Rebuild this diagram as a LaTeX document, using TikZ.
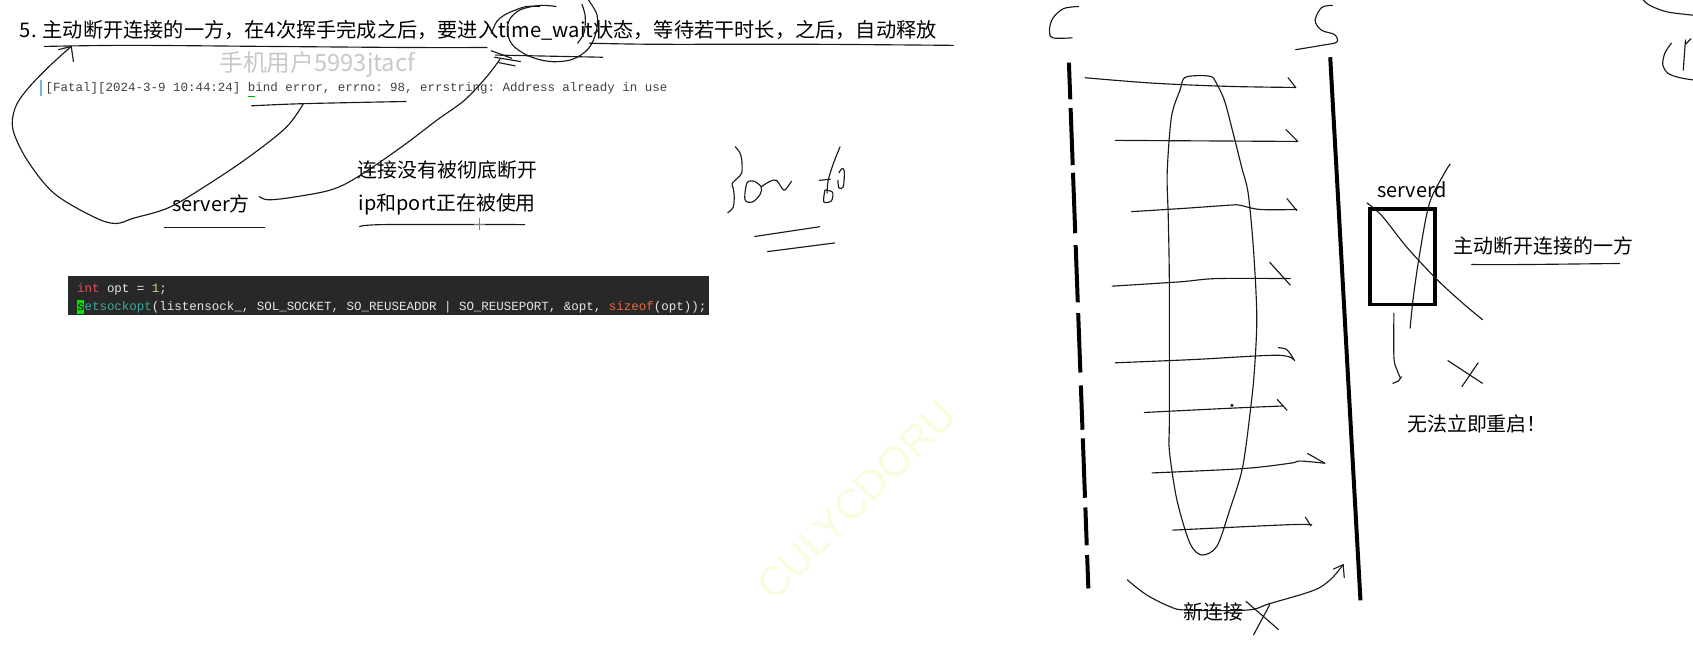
\documentclass[tikz,border=0pt]{standalone}
\usepackage{fontspec}
\newfontfamily\cjk{Noto Sans CJK SC}
\newfontfamily\monof{Liberation Mono}
\newfontfamily\wmfont{Liberation Sans}
\definecolor{codebg}{RGB}{40,40,40}
\definecolor{kwred}{RGB}{230,80,90}
\definecolor{numyel}{RGB}{230,210,120}
\definecolor{fnteal}{RGB}{60,170,160}
\definecolor{szorange}{RGB}{235,105,60}
\definecolor{codefg}{RGB}{230,230,230}
\definecolor{hlgreen}{RGB}{0,230,0}
\definecolor{logfg}{RGB}{65,65,65}
\definecolor{wmgray}{RGB}{200,200,200}
\definecolor{wmyellow}{RGB}{251,251,222}
\definecolor{ink}{RGB}{25,25,25}
\definecolor{barblue}{RGB}{120,180,230}
\begin{document}
\begin{tikzpicture}[x=0.02cm,y=-0.02cm,
  hand/.style={draw=ink,line width=0.6pt,line cap=round,line join=round},
  thickln/.style={draw=black,line width=2.1pt},
  ui/.style={inner sep=0pt,anchor=west,font=\cjk\fontsize{10.5}{12}\selectfont},
  code/.style={inner sep=0pt,anchor=base west,text=codefg,font=\monof\fontsize{6.58}{8}\selectfont\frenchspacing},
  sm/.style={smooth,tension=0.55}]
\useasboundingbox (0,0) rectangle (1568,603);
\fill[white] (0,0) rectangle (1568,603);

% faint watermark
\node[rotate=45,text=wmyellow,font=\wmfont\fontsize{22}{22}\selectfont,inner sep=0pt] (wm) at (793,463) {CULYCDORU};

% ---------- left part ----------
\node[ui,font=\cjk\fontsize{10.65}{12}\selectfont] (title) at (18,28) {5. 主动断开连接的一方，在4次挥手完成之后，要进入time\_wait状态，等待若干时长，之后，自动释放};
\node[ui,text=wmgray,font=\cjk\fontsize{12.5}{14}\selectfont] (user) at (203,60) {手机用户5993jtacf};
\draw[barblue,line width=0.6pt] (38,74) -- (38,89);
\node[code,text=logfg] (log) at (42,85) {[Fatal][2024-3-9 10:44:24] bind error, errno: 98, errstring: Address already in use};
\draw[green!70!black,line width=0.8pt] (230,89.5) -- (236,89.5);

\node[ui] (srv) at (159,189) {server方};
\node[ui] (conn1) at (331,157) {连接没有被彻底断开};
\node[ui] (conn2) at (332,189) {ip和port正在被使用};

% code block
\fill[codebg] (63,256) rectangle (657,292);
\fill[hlgreen] (71,278) rectangle (78,291);
\node[code] (c1) at (71,271) {\textcolor{kwred}{int} opt = \textcolor{numyel}{1};};
\node[code] (c2) at (71,288) {\textcolor{black}{s}\textcolor{fnteal}{etsockopt}(listensock\_, SOL\_SOCKET, SO\_REUSEADDR | SO\_REUSEPORT, \&opt, \textcolor{szorange}{sizeof}(opt));};

% title underline
\draw[hand] plot[sm] coordinates {(41,43) (120,42) (250,43) (380,44) (451,44)};
\draw[hand] plot[sm] coordinates {(546,40) (608,41) (750,41) (883,42)};
\draw[hand] (459,51) -- (558,53);
% bind underline
\draw[hand] plot[sm] coordinates {(233,98) (281,96) (376,94)};
% big loop to title
\draw[hand] plot[sm] coordinates {(281,96) (265,118) (231,145) (194,170) (157,192) (124,202) (107,207) (87,201) (50,179) (25,148) (12,120) (14,100) (25,83) (45,62) (66,43)};
\draw[hand] (54,46) -- (66,43) -- (68,57);
% server underline
\draw[hand] (152,211) -- (245,211);
% ip/port underline
\draw[hand] plot[sm] coordinates {(333,210) (356,208) (486,208)};
\draw[gray,line width=0.5pt] (444,202) -- (444,213) (439,207.5) -- (449,207.5);
% curve to time_wait
\draw[hand] plot[sm] coordinates {(240,182) (248,185) (269,183) (306,176) (331,164) (372,136) (405,111) (430,93) (450,72) (463,55)};
\draw[hand] (455,47) -- (474,54);
\draw[hand] (458,53) -- (482,57);
\draw[hand] (462,58) -- (477,61);
% scribble loop round time_wait
\draw[hand] plot[sm] coordinates {(545,0) (553,14) (552,30) (545,45) (530,55) (510,57) (490,52) (475,42) (470,30) (472,18) (482,9) (500,5) (515,6)};
\draw[hand] plot[sm] coordinates {(455,31) (460,20) (467,14) (478,9) (488,6) (500,6)};
\draw[hand] plot[sm] coordinates {(539,4) (542,15) (541,30) (535,40)};

% handwriting "}on ..."
\draw[hand] plot[sm] coordinates {(681,136) (685,141) (687,148) (687,160) (683,165) (678,170) (679,174) (680,182) (679,192) (674,197)};
\draw[hand] plot[sm] coordinates {(699,168) (692,169) (690,185) (697,187) (704,180) (705,173) (699,168)};
\draw[hand] plot[sm] coordinates {(705,173) (713,168) (719,167) (724,174) (727,176) (733,168)};
\draw[hand] plot[sm] coordinates {(778,136) (772,151) (767,167) (766,179)};
\draw[hand] (759,167) -- (769,166);
\draw[hand] plot[sm] coordinates {(764,176) (763,187) (770,186) (771,178) (764,176)};
\draw[hand] plot[sm] coordinates {(776,167) (777,174) (781,173) (782,159) (780,156) (777,160)};
\draw[hand] (699,219) -- (759,210);
\draw[hand] (711,233) -- (773,225);

% ---------- right part ----------
% C and S letters
\draw[hand] plot[sm] coordinates {(999,6) (985,8) (975,17) (972,28) (975,35) (993,35)};
\draw[hand] plot[sm] coordinates {(1234,5) (1224,7) (1218,19) (1224,28) (1236,32) (1238,39) (1224,42) (1200,46)};
% corner marks
\draw[hand] plot[sm] coordinates {(1522,0) (1528,5) (1544,11) (1568,14)};
\draw[hand] plot[sm] coordinates {(1548,40) (1542,49) (1540,60) (1545,68) (1556,72) (1568,74)};
\draw[hand] (1561,37) -- (1559,65);
\draw[hand] (1561,41) -- (1566,36);

% client timeline (dashed by hand)
\foreach \a/\b in {58/92,100/153,160/216,227/280,290/345,357/398,406/461,470/505,514/545}
  \draw[thickln] ({990+0.03696*(\a-58)},\a) -- ({990+0.03696*(\b-58)},\b);
% server timeline
\coordinate (stop) at (1232,53);
\coordinate (sbot) at (1260,556);
\draw[thickln] (stop) -- (sbot);

% big ellipse
\draw[hand] plot[smooth cycle,tension=0.5] coordinates {(1097,72) (1110,70) (1122,71) (1126,76) (1134,93) (1142,123) (1150,155) (1156,179) (1161,232) (1164,293) (1162,340) (1159,372) (1151,432) (1139,472) (1127,506) (1113,514) (1102,503) (1090,463) (1083,417) (1083,389) (1083,262) (1082,201) (1081,160) (1085,108) (1093,83)};

% horizontal arrows
\draw[hand] plot[sm] coordinates {(1005,72) (1068,77) (1138,80) (1200,81)};
\draw[hand] (1193,72) -- (1200,81);
\draw[hand] (1033,130) -- (1202,131);
\draw[hand] (1191,120) -- (1202,131);
\draw[hand] plot[sm] coordinates {(1048,196) (1096,193) (1139,190) (1148,190) (1167,194) (1201,194)};
\draw[hand] (1192,184) -- (1201,195);
\draw[hand] plot[sm] coordinates {(1030,265) (1093,261) (1127,258) (1195,258)};
\draw[hand] (1176,243) -- (1195,264);
\draw[hand] plot[sm] coordinates {(1033,336) (1105,333) (1182,329) (1198,333)};
\draw[hand] plot[sm] coordinates {(1184,322) (1192,324) (1199,334)};
\draw[hand] plot[sm] coordinates {(1060,382) (1141,378) (1188,376)};
\draw[hand] (1183,370) -- (1192,380);
\fill[ink] (1141,375.5) circle (1.6);
\draw[hand] plot[sm] coordinates {(1067,438) (1151,434) (1195,429) (1204,427) (1227,429)};
\draw[hand] (1211,420) -- (1227,429);
\draw[hand] plot[sm] coordinates {(1086,491) (1192,486) (1215,486)};
\draw[hand] (1209,479) -- (1214,487);

% new connection curve
\node[ui] (newc) at (1096,567) {新连接};
\draw[hand] plot[sm] coordinates {(1044,537) (1062,551) (1084,562) (1099,565) (1155,565) (1176,559) (1216,547) (1232,537) (1244,523)};
\draw[hand] (1235,527) -- (1244,523) -- (1245,535);
\draw[hand] (1154,557) -- (1184,583);
\draw[hand] (1176,560) -- (1161,588);

% serverd box
\node[inner sep=0pt,anchor=base west,font=\cjk\fontsize{10.5}{12}\selectfont] (serverd) at (1275,183) {serverd};
\draw[black,line width=2.1pt] (1269,194) rectangle (1329,282);
\node[ui] (active) at (1346,228) {主动断开连接的一方};
\draw[hand] plot[sm] coordinates {(1363,245) (1410,245) (1500,244)};
\draw[hand] plot[sm] coordinates {(1266,188) (1280,200) (1303,229) (1331,259) (1355,281) (1373,296)};
\draw[hand] plot[sm] coordinates {(1343,152) (1338,160) (1324,188) (1315,234) (1309,275) (1306,304)};
\draw[hand] plot[sm] coordinates {(1291,290) (1291,331) (1294,343) (1297,350)};
\draw[hand] (1298,349) -- (1295,353) -- (1290,355);
\draw[hand] (1341,334) -- (1373,355);
\draw[hand] (1369,336) -- (1354,358);
\node[ui] (restart) at (1303,393) {无法立即重启！};
\end{tikzpicture}
\end{document}
